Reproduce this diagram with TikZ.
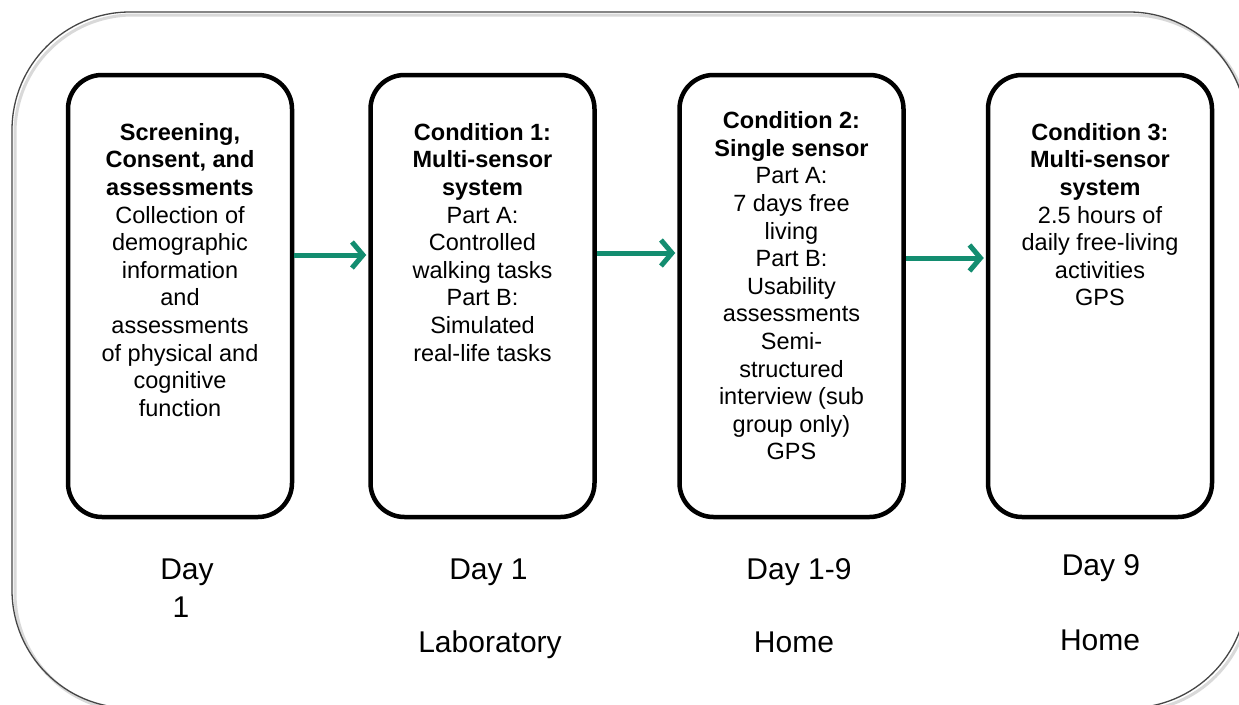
\documentclass[tikz,border=0pt]{standalone}
\usepackage{fontspec}
\setmainfont{Liberation Sans}
\usetikzlibrary{arrows.meta}
\definecolor{arrowgreen}{RGB}{19,141,112}
\definecolor{framegray}{RGB}{70,70,70}
\begin{document}
\begin{tikzpicture}[x=1pt,y=-1pt,
  stagebox/.style={draw=black, line width=4.5pt, rounded corners=34pt, minimum width=224pt, minimum height=442pt, inner sep=0pt},
  boxtext/.style={align=center, inner sep=0pt, anchor=north, font=\fontsize{23.5}{27.6}\selectfont},
  daytext/.style={inner sep=0pt, anchor=base, font=\fontsize{30}{36}\selectfont},
  flow/.style={draw=arrowgreen, line width=5pt, shorten >=2pt, -{Straight Barb[length=11pt,width=26pt]}}
]
\useasboundingbox (0,0) rectangle (1239,704);
\fill[white] (0,0) rectangle (1239,704);
\begin{scope}
\clip (0,0) rectangle (1239,704);
\draw[gray!30, line width=3pt, rounded corners=118pt] (15,15) rectangle (1250,711);
\draw[framegray, line width=1.3pt, rounded corners=118pt] (12,12) rectangle (1247,708);
\end{scope}

\node[stagebox] (b1) at (180,296) {};
\node[stagebox] (b2) at (482.5,296) {};
\node[stagebox] (b3) at (791.5,296) {};
\node[stagebox] (b4) at (1100,296) {};

\node[boxtext] (t1) at (180,123) {\textbf{Screening,}\\\textbf{Consent, and}\\\textbf{assessments}\\Collection of\\demographic\\information\\and\\assessments\\of physical and\\cognitive\\function};
\node[boxtext] (t2) at (482.5,123) {\textbf{Condition 1:}\\\textbf{Multi-sensor}\\\textbf{system}\\Part A:\\Controlled\\walking tasks\\Part B:\\Simulated\\real-life tasks};
\node[boxtext] (t3) at (791.5,111.5) {\textbf{Condition 2:}\\\textbf{Single sensor}\\Part A:\\7 days free\\living\\Part B:\\Usability\\assessments\\Semi-\\structured\\interview (sub\\group only)\\GPS};
\node[boxtext] (t4) at (1100,123) {\textbf{Condition 3:}\\\textbf{Multi-sensor}\\\textbf{system}\\2.5 hours of\\daily free-living\\activities\\GPS};

\draw[flow] (b1.east |- 0,255) -- (b2.west |- 0,255);
\draw[flow] (b2.east |- 0,253) -- (b3.west |- 0,253);
\draw[flow] (b3.east |- 0,258) -- (b4.west |- 0,258);

\node[daytext] (d1a) at (187,579) {Day};
\node[daytext] (d1b) at (181,617) {1};
\node[daytext] (d2a) at (488.5,579) {Day 1};
\node[daytext] (d2b) at (490,652) {Laboratory};
\node[daytext] (d3a) at (799,579) {Day 1-9};
\node[daytext] (d3b) at (794,652) {Home};
\node[daytext] (d4a) at (1101,575) {Day 9};
\node[daytext] (d4b) at (1100,650) {Home};
\end{tikzpicture}
\end{document}
